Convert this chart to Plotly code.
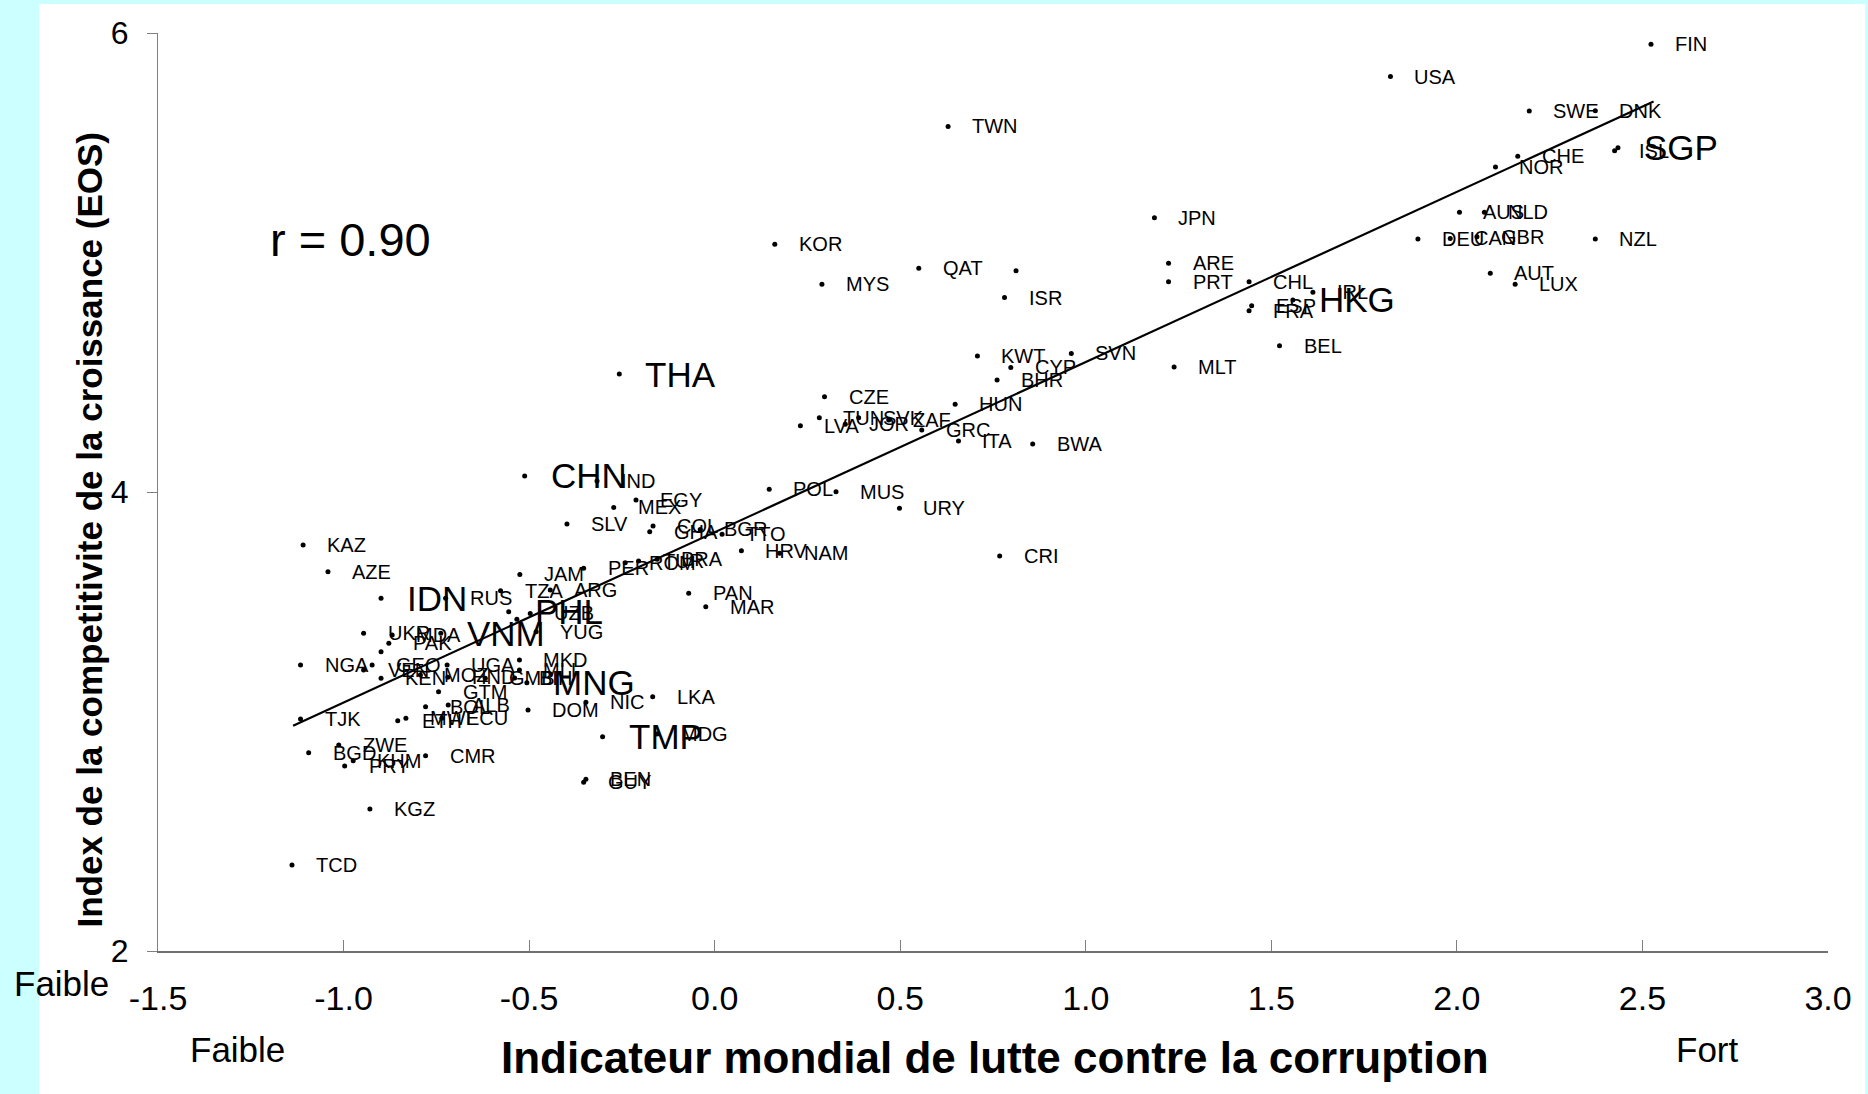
import plotly.graph_objects as go

# pays (code ISO), indicateur de corruption (x), indice de competitivite EOS (y)
codes = ["TCD", "KGZ", "BEN", "GUY", "PRY", "KHM", "BGD", "ZWE", "CMR", "TMP",
         "MDG", "TJK", "ETH", "MWI", "ECU", "BOL", "ALB", "DOM", "NIC", "LKA",
         "GTM", "MNG", "BIH", "GMB", "HND", "MOZ", "KEN", "VEN", "GEO", "NGA",
         "UGA", "MLI", "MKD", "UKR", "MDA", "PAK", "", "VNM", "YUG", "",
         "PHL", "UZB", "IDN", "RUS", "TZA", "ARG", "JAM", "AZE", "KAZ", "PER",
         "ROM", "TUR", "BRA", "PAN", "MAR", "HRV", "NAM", "TTO", "BGR", "GHA",
         "COL", "SLV", "MEX", "EGY", "IND", "CHN", "THA", "POL", "MUS", "URY",
         "CRI", "LVA", "TUN", "JOR", "SVK", "ZAF", "GRC", "CZE", "HUN", "ITA",
         "BWA", "BHR", "CYP", "KWT", "SVN", "MLT", "MYS", "KOR", "QAT", "",
         "ISR", "TWN", "JPN", "ARE", "PRT", "CHL", "ESP", "FRA", "HKG", "IRL",
         "BEL", "USA", "DEU", "CAN", "GBR", "AUS", "NLD", "AUT", "LUX", "NZL",
         "NOR", "CHE", "SWE", "DNK", "ISL", "SGP", "FIN"]

corruption = [-1.139, -0.929, -0.347, -0.353, -0.997, -0.974, -1.094, -1.013, -0.779, -0.302,
              -0.155, -1.116, -0.854, -0.832, -0.735, -0.779, -0.718, -0.503, -0.347, -0.167,
              -0.744, -0.506, -0.539, -0.618, -0.719, -0.793, -0.899, -0.946, -0.923, -1.116,
              -0.721, -0.526, -0.526, -0.946, -0.869, -0.878, -0.899, -0.738, -0.481, -0.533,
              -0.555, -0.497, -0.899, -0.725, -0.577, -0.443, -0.525, -1.042, -1.109, -0.353,
              -0.241, -0.205, -0.155, -0.070, -0.024, 0.072, 0.175, 0.020, -0.039, -0.175,
              -0.166, -0.398, -0.272, -0.212, -0.317, -0.512, -0.257, 0.147, 0.327, 0.498,
              0.768, 0.231, 0.282, 0.352, 0.388, 0.469, 0.558, 0.296, 0.648, 0.657,
              0.857, 0.761, 0.798, 0.708, 0.961, 1.238, 0.289, 0.162, 0.550, 0.812,
              0.781, 0.629, 1.185, 1.223, 1.223, 1.440, 1.447, 1.440, 1.558, 1.612,
              1.522, 1.821, 1.895, 1.982, 2.054, 2.007, 2.074, 2.090, 2.157, 2.373,
              2.104, 2.164, 2.195, 2.373, 2.425, 2.434, 2.523]

competitiveness = [2.375, 2.619, 2.748, 2.735, 2.806, 2.829, 2.864, 2.898, 2.851, 2.934,
                   2.946, 3.011, 3.003, 3.014, 3.014, 3.064, 3.072, 3.050, 3.084, 3.108,
                   3.130, 3.169, 3.190, 3.188, 3.193, 3.203, 3.188, 3.224, 3.246, 3.246,
                   3.246, 3.224, 3.268, 3.384, 3.377, 3.341, 3.304, 3.384, 3.391, 3.445,
                   3.478, 3.471, 3.537, 3.537, 3.570, 3.573, 3.641, 3.653, 3.769, 3.668,
                   3.692, 3.699, 3.707, 3.559, 3.500, 3.744, 3.733, 3.816, 3.837, 3.827,
                   3.852, 3.861, 3.933, 3.965, 4.048, 4.070, 4.514, 4.012, 4.001, 3.929,
                   3.721, 4.289, 4.324, 4.295, 4.324, 4.314, 4.270, 4.415, 4.382, 4.222,
                   4.209, 4.488, 4.543, 4.593, 4.604, 4.545, 4.905, 5.079, 4.975, 4.964,
                   4.847, 5.593, 5.195, 4.997, 4.916, 4.916, 4.812, 4.790, 4.837, 4.870,
                   4.637, 5.810, 5.102, 5.105, 5.112, 5.219, 5.219, 4.953, 4.905, 5.102,
                   5.416, 5.463, 5.660, 5.661, 5.487, 5.500, 5.951]

# pays mis en evidence (etiquette en grand)
highlight = ["THA", "CHN", "IDN", "PHL", "VNM", "MNG", "TMP", "HKG", "SGP"]

# droite de regression (extremites)
fit_x = [-1.136, 2.530]
fit_y = [2.982, 5.701]

x_ticks = [-1.5, -1.0, -0.5, 0.0, 0.5, 1.0, 1.5, 2.0, 2.5, 3.0]
x_tick_labels = ["-1.5", "-1.0", "-0.5", "0.0", "0.5", "1.0", "1.5", "2.0", "2.5", "3.0"]
y_ticks = [2, 4, 6]
y_tick_labels = ["2", "4", "6"]

FONT = "Liberation Sans, Arial, sans-serif"

fig = go.Figure()
fig.add_trace(go.Scatter(x=fit_x, y=fit_y, mode="lines",
                         line=dict(color="black", width=2.2), hoverinfo="skip"))
fig.add_trace(go.Scatter(x=corruption, y=competitiveness, mode="markers",
                         marker=dict(color="black", size=5, symbol="circle"),
                         text=codes, hoverinfo="text"))

annots = []
for c, xv, yv in zip(codes, corruption, competitiveness):
    if not c:
        continue
    big = c in highlight
    annots.append(dict(x=xv, y=yv, xref="x", yref="y", text=c, showarrow=False,
                       xanchor="left", yanchor="middle",
                       xshift=24 if big else 22,
                       font=dict(family=FONT, size=35 if big else 20, color="black")))

# textes libres
annots += [
    dict(x=-0.98, y=5.10, xref="x", yref="y", text="r = 0.90", showarrow=False,
         xanchor="center", yanchor="middle", font=dict(family=FONT, size=47, color="black")),
    dict(x=-0.0416, y=0.4586, xref="paper", yref="paper", showarrow=False, textangle=-90,
         text="<b>Index de la competitivite de la croissance (EOS)</b>",
         xanchor="center", yanchor="middle", font=dict(family=FONT, size=35, color="black")),
    dict(x=0.5009, y=-0.1155, xref="paper", yref="paper", showarrow=False,
         text="<b>Indicateur mondial de lutte contre la corruption</b>",
         xanchor="center", yanchor="middle", font=dict(family=FONT, size=44, color="black")),
    dict(x=-0.0578, y=-0.0349, xref="paper", yref="paper", showarrow=False, text="Faible",
         xanchor="center", yanchor="middle", font=dict(family=FONT, size=35, color="black")),
    dict(x=0.0479, y=-0.1078, xref="paper", yref="paper", showarrow=False, text="Faible",
         xanchor="center", yanchor="middle", font=dict(family=FONT, size=35, color="black")),
    dict(x=0.9281, y=-0.1078, xref="paper", yref="paper", showarrow=False, text="Fort",
         xanchor="center", yanchor="middle", font=dict(family=FONT, size=35, color="black")),
]

fig.update_layout(
    width=1868, height=1094,
    margin=dict(l=158, r=40, t=33, b=143),
    paper_bgcolor="#CCFFFF",
    plot_bgcolor="white",
    showlegend=False,
    annotations=annots,
    shapes=[dict(type="rect", xref="paper", yref="paper", x0=-0.0713, x1=1.0222,
                 y0=-0.16, y1=1.0316, fillcolor="white", line=dict(width=0), layer="below")],
)
fig.update_xaxes(range=[-1.5, 3.0], tickvals=x_ticks, ticktext=x_tick_labels,
                 ticks="inside", ticklen=11, tickcolor="#808080", tickwidth=1,
                 showline=True, linecolor="#707070", linewidth=2,
                 showgrid=False, zeroline=False, ticklabelstandoff=16,
                 tickfont=dict(family=FONT, size=34, color="black"))
fig.update_yaxes(range=[2, 6], tickvals=y_ticks, ticktext=y_tick_labels,
                 ticks="outside", ticklen=10, tickcolor="#808080", tickwidth=1,
                 showline=True, linecolor="#808080", linewidth=1,
                 showgrid=False, zeroline=False, ticklabelstandoff=12,
                 tickfont=dict(family=FONT, size=32, color="black"))

fig.write_html("out.html", config={"displayModeBar": False},
               post_script="document.body.style.margin='0';document.body.style.overflow='hidden';")
